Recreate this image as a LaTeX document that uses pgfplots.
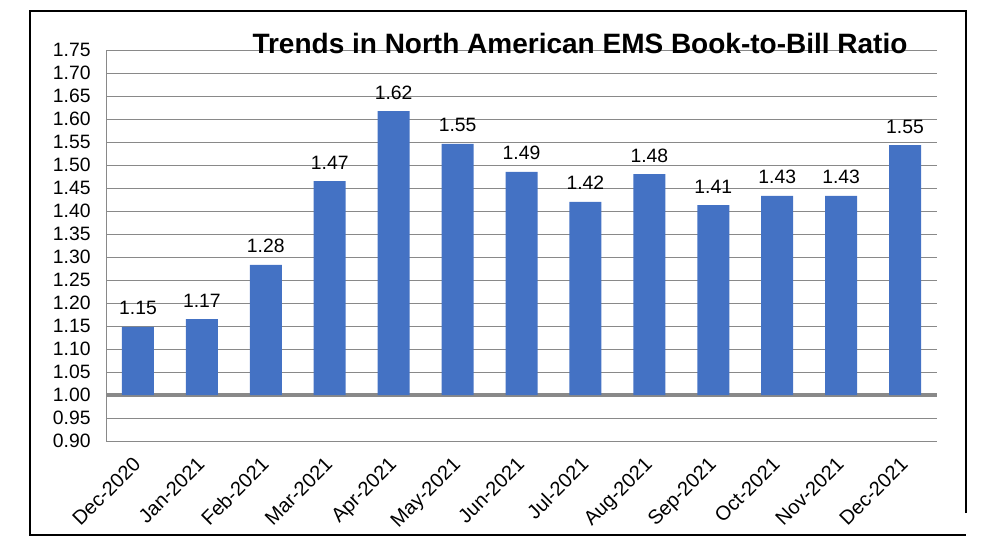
\documentclass[border=0pt]{standalone}
\usepackage{pgfplots}
\pgfplotsset{compat=1.18}
\usepackage{pgfplotstable}
\usepackage{fontspec}
\setmainfont{Liberation Sans}
\definecolor{barblue}{HTML}{4472C4}
\definecolor{gridgray}{RGB}{137,137,137}

\pgfplotstableread{
x base v lab
0 1.0 1.148 1.15
1 1.0 1.165 1.17
2 1.0 1.283 1.28
3 1.0 1.465 1.47
4 1.0 1.617 1.62
5 1.0 1.546 1.55
6 1.0 1.485 1.49
7 1.0 1.420 1.42
8 1.0 1.480 1.48
9 1.0 1.413 1.41
10 1.0 1.433 1.43
11 1.0 1.433 1.43
12 1.0 1.543 1.55
}\data

\begin{document}
\begin{tikzpicture}
\path[use as bounding box] (0pt,0pt) rectangle (740.25pt,410.25pt);
\draw[line width=1pt] (724.5pt,25.5pt) -- (724.5pt,402pt) -- (22.5pt,402pt) -- (22.5pt,9pt) -- (724.5pt,9pt);
\begin{axis}[
  at={(79.5pt,79.5pt)}, anchor=south west,
  scale only axis, width=623.25pt, height=293.25pt,
  ybar stacked, bar width=24pt,
  xmin=-0.5, xmax=12.5,
  ymin=0.9, ymax=1.75,
  ytick={0.9,0.95,1.0,1.05,1.1,1.15,1.2,1.25,1.3,1.35,1.4,1.45,1.5,1.55,1.6,1.65,1.7,1.75},
  /pgf/number format/fixed, /pgf/number format/fixed zerofill, /pgf/number format/precision=2,
  /pgf/number format/assume math mode=true,
  yticklabel style={font=\fontsize{14.5}{16}\selectfont, xshift=-8pt},
  xtick={0,...,12},
  xticklabels={Dec-2020,Jan-2021,Feb-2021,Mar-2021,Apr-2021,May-2021,Jun-2021,Jul-2021,Aug-2021,Sep-2021,Oct-2021,Nov-2021,Dec-2021},
  xticklabel style={font=\fontsize{15}{17}\selectfont, inner sep=0pt, xshift=-4.5pt, yshift=-10.75pt, rotate=45, anchor=north east},
  major tick length=0pt,
  ymajorgrids, grid style={gridgray, line width=0.75pt},
  extra y ticks={1.0}, extra y tick labels={},
  extra y tick style={grid style={gridgray, line width=2.6pt}},
  axis x line*=bottom, axis y line*=left,
  x axis line style={draw=none},
  y axis line style={gridgray, line width=0.75pt, -},
  clip=false,
]
\addplot[draw=none, fill=none] table[x=x, y=base] \data;
\addplot[draw=none, fill=barblue] table[x=x, y expr=\thisrow{v}-\thisrow{base}] \data;
\end{axis}
\begin{axis}[
  at={(79.5pt,79.5pt)}, anchor=south west,
  scale only axis, width=623.25pt, height=293.25pt,
  xmin=-0.5, xmax=12.5,
  ymin=0.9, ymax=1.75,
  hide axis, clip=false,
]
\addplot[draw=none, mark=none,
  nodes near coords, point meta=explicit symbolic,
  every node near coord/.append style={font=\fontsize{14.5}{16}\selectfont, anchor=base, inner sep=0pt, yshift=9pt, text=black}]
  table[x=x, y=v, meta=lab] \data;
\end{axis}
\node[anchor=base, font=\fontsize{21}{25}\selectfont\bfseries] at (435pt,370.3pt) {Trends in North American EMS Book-to-Bill Ratio};
\end{tikzpicture}
\end{document}
